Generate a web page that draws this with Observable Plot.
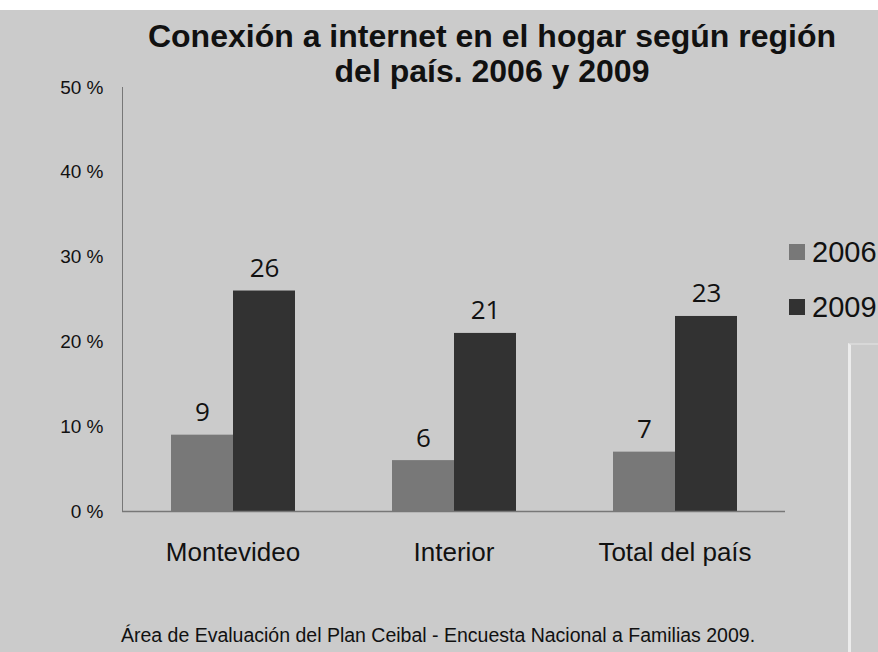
<!DOCTYPE html>
<html>
<head>
<meta charset="utf-8">
<script src="https://cdn.jsdelivr.net/npm/d3@7"></script>
<script src="https://cdn.jsdelivr.net/npm/@observablehq/plot@0.6"></script>
<style>
  html, body { margin: 0; padding: 0; }
  body { width: 878px; height: 652px; overflow: hidden; background: #cbcbcb; font-family: "Liberation Sans", Arial, sans-serif; color: #111; position: relative; }
  #topstrip { height: 10px; background: #ffffff; }
  #title { height: 62px; text-align: center; font-weight: bold; font-size: 32px; line-height: 35px; padding-left: 106px; box-sizing: border-box; padding-top: 9px; white-space: nowrap; position: relative; z-index: 1; }
  #chart svg { display: block; overflow: visible; }
  #caption { text-align: center; font-size: 19.5px; padding-top: 14px; padding-right: 2px; white-space: nowrap; }
  .leg { position: absolute; left: 789px; font-size: 29px; line-height: 30px; display: flex; align-items: center; white-space: nowrap; font-family: "Liberation Sans", Arial, sans-serif; }
  .leg span.sw { width: 16px; height: 16px; display: inline-block; margin-right: 7px; }
  #panel { position: absolute; left: 848px; top: 343px; width: 40px; height: 320px; border-left: 3px solid #ececec; border-top: 2px solid #d8d8d8; box-sizing: border-box; }
</style>
</head>
<body>
<div id="topstrip"></div>
<div id="title">Conexión a internet en el hogar según región<br>del país. 2006 y 2009</div>
<div id="chart"></div>
<div id="caption">Área de Evaluación del Plan Ceibal - Encuesta Nacional a Familias 2009.</div>
<div id="legend"></div>
<div id="panel"></div>
<script>
const regions = ["Montevideo", "Interior", "Total del país"];
const years = ["2006", "2009"];
const values2006 = [9, 6, 7];
const values2009 = [26, 21, 23];
const yTicks = [0, 10, 20, 30, 40, 50];
const yearColors = ["#787878", "#323232"];

const rows = [];
regions.forEach((r, i) => {
  rows.push({region: r, year: years[0], value: values2006[i]});
  rows.push({region: r, year: years[1], value: values2009[i]});
});

const plot = Plot.plot({
  width: 878,
  height: 538,
  marginTop: 15,
  marginLeft: 121,
  marginRight: 92,
  marginBottom: 99,
  style: {background: "transparent", fontFamily: "'Liberation Sans', Arial, sans-serif", color: "#777"},
  fx: {domain: regions, padding: 0, axis: "bottom", label: null, tickSize: 0, tickPadding: 31},
  x: {domain: years, paddingInner: 0, paddingOuter: 0.77, axis: null},
  y: {domain: [0, 50], ticks: yTicks, tickFormat: d => `${d} %`, tickSize: 0, tickPadding: 19, label: null, line: true},
  color: {domain: years, range: yearColors},
  marks: [
    Plot.barY(rows, {fx: "region", x: "year", y: "value", fill: "year"}),
    Plot.ruleY([0], {stroke: "#777", strokeWidth: 1.5}),
    Plot.text(rows, {fx: "region", x: "year", y: "value", text: d => String(d.value), lineAnchor: "bottom", dy: -14, fontSize: 26, fontFamily: "'Open Sans', sans-serif", fill: "#111"})
  ]
});
document.getElementById("chart").appendChild(plot);

// axis text styling: dark text, larger sizes like the reference
const svg = d3.select(plot);
svg.selectAll("text").attr("fill", "#111");
svg.selectAll("text").filter(function() { return /%$/.test(this.textContent.trim()); }).style("font-size", "19px");
svg.selectAll("text").filter(function() { return regions.includes(this.textContent.trim()); }).style("font-size", "26px");

const legend = document.getElementById("legend");
years.forEach((y, i) => {
  const div = document.createElement("div");
  div.className = "leg";
  div.style.top = (237 + i * 55) + "px";
  const sw = document.createElement("span");
  sw.className = "sw";
  sw.style.background = yearColors[i];
  div.appendChild(sw);
  div.appendChild(document.createTextNode(y));
  legend.appendChild(div);
});
</script>
</body>
</html>
